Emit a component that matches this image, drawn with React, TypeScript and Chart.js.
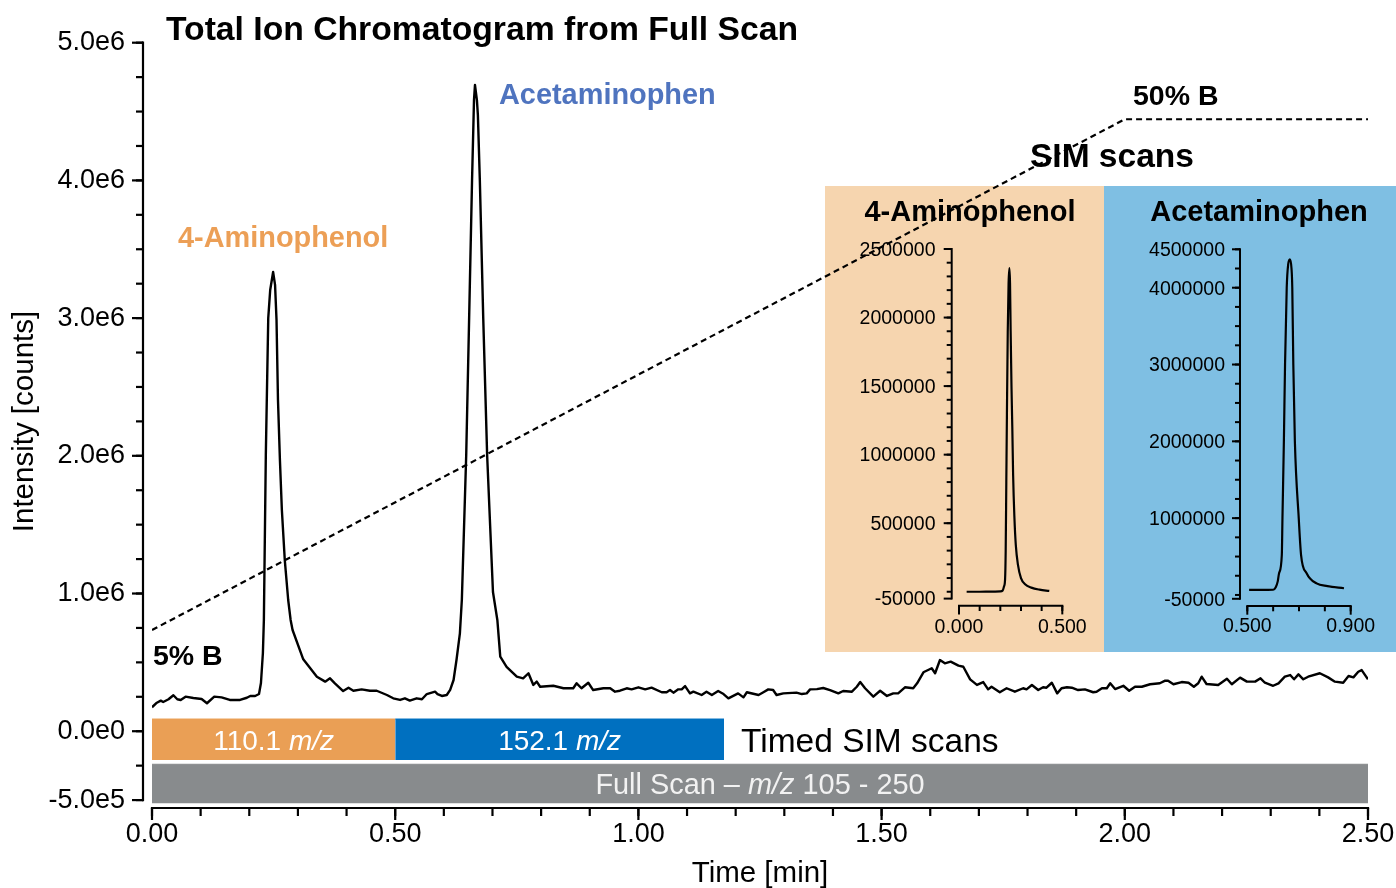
import React, { useEffect, useRef } from 'react';
import { Chart, registerables } from 'chart.js';

Chart.register(...registerables);

const FONT = "'Liberation Sans', Arial, Helvetica, sans-serif";

// ---------- Main total ion chromatogram (intensity in units of 1e6 counts) ----------
const ticTime = [
  0.000, 0.010, 0.018, 0.023, 0.034, 0.044, 0.052, 0.059, 0.069, 0.085, 0.102, 0.113, 0.128, 0.143, 0.160, 0.181,
  0.195, 0.202, 0.212, 0.220, 0.224, 0.228, 0.230, 0.234, 0.239, 0.243, 0.249, 0.253, 0.256, 0.259, 0.263, 0.267,
  0.273, 0.280, 0.285, 0.289, 0.311, 0.339, 0.356, 0.366, 0.376, 0.393, 0.404, 0.414, 0.431, 0.448, 0.462, 0.483,
  0.496, 0.510, 0.520, 0.530, 0.544, 0.555, 0.565, 0.582, 0.587, 0.596, 0.606, 0.613, 0.620, 0.626, 0.633, 0.637,
  0.646, 0.652, 0.658, 0.662, 0.664, 0.668, 0.670, 0.674, 0.681, 0.689, 0.701, 0.710, 0.716, 0.729, 0.750, 0.763,
  0.774, 0.784, 0.791, 0.798, 0.825, 0.846, 0.866, 0.873, 0.883, 0.897, 0.907, 0.928, 0.942, 0.952, 0.962, 0.976,
  0.986, 1.000, 1.014, 1.027, 1.048, 1.058, 1.065, 1.072, 1.082, 1.089, 1.096, 1.106, 1.113, 1.130, 1.140, 1.151,
  1.164, 1.175, 1.185, 1.205, 1.216, 1.223, 1.247, 1.257, 1.267, 1.277, 1.284, 1.298, 1.325, 1.336, 1.346, 1.353,
  1.367, 1.380, 1.394, 1.411, 1.421, 1.439, 1.449, 1.456, 1.466, 1.483, 1.497, 1.511, 1.524, 1.534, 1.548, 1.565,
  1.573, 1.586, 1.603, 1.610, 1.620, 1.630, 1.642, 1.658, 1.668, 1.682, 1.696, 1.709, 1.719, 1.726, 1.743, 1.757,
  1.774, 1.791, 1.798, 1.809, 1.822, 1.832, 1.839, 1.850, 1.861, 1.870, 1.881, 1.891, 1.904, 1.918, 1.935, 1.942,
  1.953, 1.963, 1.970, 1.980, 1.997, 2.009, 2.021, 2.035, 2.052, 2.072, 2.083, 2.089, 2.100, 2.117, 2.131, 2.142,
  2.151, 2.158, 2.168, 2.192, 2.210, 2.220, 2.237, 2.251, 2.268, 2.279, 2.288, 2.305, 2.316, 2.329, 2.340, 2.348,
  2.357, 2.367, 2.377, 2.401, 2.418, 2.432, 2.449, 2.460, 2.470, 2.480, 2.487, 2.500,
];
const ticIntensity = [
  0.174, 0.207, 0.222, 0.212, 0.232, 0.261, 0.232, 0.227, 0.251, 0.241, 0.234, 0.203, 0.251, 0.246, 0.227, 0.227,
  0.243, 0.256, 0.256, 0.270, 0.350, 0.568, 0.808, 2.006, 3.000, 3.204, 3.335, 3.241, 2.987, 2.406, 1.970, 1.607,
  1.243, 0.953, 0.808, 0.735, 0.522, 0.396, 0.360, 0.384, 0.348, 0.292, 0.316, 0.294, 0.304, 0.294, 0.294, 0.263,
  0.239, 0.227, 0.239, 0.222, 0.239, 0.232, 0.270, 0.287, 0.270, 0.256, 0.263, 0.300, 0.372, 0.517, 0.711, 0.953,
  2.006, 3.000, 4.002, 4.583, 4.693, 4.583, 4.474, 4.002, 3.000, 2.006, 1.011, 0.808, 0.541, 0.468, 0.396, 0.384,
  0.421, 0.336, 0.360, 0.323, 0.330, 0.312, 0.312, 0.348, 0.312, 0.352, 0.299, 0.312, 0.312, 0.287, 0.294, 0.312,
  0.304, 0.319, 0.304, 0.316, 0.283, 0.283, 0.299, 0.280, 0.304, 0.304, 0.328, 0.275, 0.287, 0.263, 0.287, 0.263,
  0.292, 0.270, 0.239, 0.275, 0.246, 0.283, 0.263, 0.283, 0.304, 0.299, 0.263, 0.275, 0.280, 0.270, 0.275, 0.304,
  0.306, 0.314, 0.299, 0.275, 0.292, 0.287, 0.323, 0.357, 0.312, 0.251, 0.294, 0.256, 0.275, 0.275, 0.319, 0.312,
  0.348, 0.428, 0.457, 0.421, 0.517, 0.493, 0.505, 0.476, 0.468, 0.377, 0.336, 0.357, 0.304, 0.323, 0.283, 0.312,
  0.287, 0.312, 0.304, 0.336, 0.299, 0.319, 0.316, 0.352, 0.275, 0.312, 0.319, 0.316, 0.299, 0.304, 0.283, 0.287,
  0.312, 0.312, 0.348, 0.306, 0.330, 0.294, 0.323, 0.323, 0.341, 0.348, 0.367, 0.367, 0.341, 0.357, 0.352, 0.323,
  0.348, 0.396, 0.343, 0.336, 0.381, 0.341, 0.389, 0.360, 0.360, 0.384, 0.352, 0.330, 0.348, 0.396, 0.408, 0.377,
  0.413, 0.377, 0.396, 0.421, 0.391, 0.360, 0.352, 0.401, 0.391, 0.432, 0.444, 0.377,
];

// Gradient (%B) trace, plotted on the intensity axis
const gradientTime = [0, 2.0, 2.5];
const gradientLevel = [0.735, 4.444, 4.444];

// Timed SIM windows and full scan range
const simStart = [0, 0.5];
const simEnd = [0.5, 1.176];
const simMass = ['110.1', '152.1'];
const fullScanStart = [0];
const fullScanEnd = [2.5];

// Main axis ticks
const mainXTicks = [0, 0.5, 1.0, 1.5, 2.0, 2.5];
const mainXTickLabels = ['0.00', '0.50', '1.00', '1.50', '2.00', '2.50'];
const mainYTicks = [-0.5, 0, 1, 2, 3, 4, 5];
const mainYTickLabels = ['-5.0e5', '0.0e0', '1.0e6', '2.0e6', '3.0e6', '4.0e6', '5.0e6'];

// ---------- Inset: 4-Aminophenol SIM (m/z 110.1) ----------
const apTime = [
  0.037, 0.100, 0.150, 0.200, 0.211, 0.218, 0.223, 0.226, 0.229, 0.232, 0.236, 0.240, 0.244, 0.247, 0.250, 0.254,
  0.258, 0.262, 0.268, 0.275, 0.285, 0.300, 0.320, 0.350, 0.390, 0.437,
];
const apIntensity = [
  0.000, 0.000, 0.001, 0.003, 0.008, 0.040, 0.090, 0.300, 0.800, 1.300, 1.900, 2.250, 2.360, 2.250, 1.900, 1.500,
  1.200, 0.850, 0.550, 0.340, 0.200, 0.100, 0.055, 0.030, 0.015, 0.006,
];
const apXTicks = [0, 0.5];
const apXTickLabels = ['0.000', '0.500'];
const apYTicks = [-0.05, 0.5, 1.0, 1.5, 2.0, 2.5];
const apYTickLabels = ['-50000', '500000', '1000000', '1500000', '2000000', '2500000'];

// ---------- Inset: Acetaminophen SIM (m/z 152.1) ----------
const acTime = [
  0.507, 0.550, 0.600, 0.610, 0.618, 0.6227, 0.6335, 0.636, 0.6415, 0.646, 0.6525, 0.658, 0.665, 0.671, 0.674,
  0.678, 0.684, 0.699, 0.708, 0.730, 0.768, 0.810, 0.874,
];
const acIntensity = [
  0.065, 0.065, 0.068, 0.100, 0.180, 0.280, 0.520, 1.000, 2.000, 3.000, 4.000, 4.300, 4.370, 4.250, 4.000,
  3.000, 2.000, 1.000, 0.520, 0.280, 0.150, 0.115, 0.087,
];
const acXTicks = [0.5, 0.9];
const acXTickLabels = ['0.500', '0.900'];
const acYTicks = [-0.05, 1, 2, 3, 4, 4.5];
const acYTickLabels = ['-50000', '1000000', '2000000', '3000000', '4000000', '4500000'];

// ---------- styles ----------
const ORANGE = '#EA9F55';
const BLUE_BAR = '#0070C0';
const GRAY_BAR = '#888B8D';
const AP_BG = '#F6D5AF';
const AC_BG = '#7FBFE3';
const LABEL_BLUE = '#4F74BF';
const LABEL_ORANGE = '#EC9F56';

const SIM_TOP = 0.0886;
const SIM_BOTTOM = -0.209;
const FULL_TOP = -0.24;
const FULL_BOTTOM = -0.524;

type AxisCfg = {
  xAxisY: number;
  yAxisX: number;
  xFrom: number;
  xTo: number;
  xMajors: number[];
  xLabels: string[];
  xMinorStart: number;
  xMinorStep: number;
  xMajorLen: number;
  xMinorLen: number;
  xLabelBaseline: number;
  yFrom: number;
  yTo: number;
  yMajors: number[];
  yLabels: string[];
  yMinorStart: number;
  yMinorStep: number;
  yMajorLen: number;
  yMinorLen: number;
  yLabelRight: number;
  yLabelShift: number;
  lineWidth: number;
  font: string;
};

function stepValues(start: number, end: number, step: number) {
  const out: number[] = [];
  for (let i = 0; i < 1000; i++) {
    const v = +(start + i * step).toFixed(6);
    if (v > end + 1e-9) break;
    out.push(v);
  }
  return out;
}

function makeAxesPlugin(cfg: AxisCfg) {
  return {
    id: 'originAxes',
    afterDraw(chart: any) {
      const { ctx } = chart;
      const xs = chart.scales.x;
      const ys = chart.scales.y;
      const h = cfg.lineWidth / 2;
      ctx.save();
      ctx.strokeStyle = '#000';
      ctx.fillStyle = '#000';
      ctx.lineWidth = cfg.lineWidth;
      ctx.lineCap = 'butt';
      const seg = (x1: number, y1: number, x2: number, y2: number) => {
        ctx.beginPath();
        ctx.moveTo(x1, y1);
        ctx.lineTo(x2, y2);
        ctx.stroke();
      };
      // y axis
      const yTop = ys.getPixelForValue(cfg.yTo);
      const yBot = ys.getPixelForValue(cfg.yFrom);
      seg(cfg.yAxisX, yTop - h, cfg.yAxisX, yBot + h);
      stepValues(cfg.yMinorStart, cfg.yTo, cfg.yMinorStep).forEach((v) => {
        const p = ys.getPixelForValue(v);
        seg(cfg.yAxisX - cfg.yMinorLen, p, cfg.yAxisX, p);
      });
      ctx.font = cfg.font;
      ctx.textAlign = 'right';
      ctx.textBaseline = 'alphabetic';
      cfg.yMajors.forEach((v, i) => {
        const p = ys.getPixelForValue(v);
        seg(cfg.yAxisX - cfg.yMajorLen, p, cfg.yAxisX, p);
        ctx.fillText(cfg.yLabels[i], cfg.yLabelRight, p + cfg.yLabelShift);
      });
      // x axis
      const xL = xs.getPixelForValue(cfg.xFrom);
      const xR = xs.getPixelForValue(cfg.xTo);
      seg(xL - h, cfg.xAxisY, xR + h, cfg.xAxisY);
      stepValues(cfg.xMinorStart, cfg.xTo, cfg.xMinorStep).forEach((v) => {
        const p = xs.getPixelForValue(v);
        seg(p, cfg.xAxisY, p, cfg.xAxisY + cfg.xMinorLen);
      });
      ctx.textAlign = 'center';
      cfg.xMajors.forEach((v, i) => {
        const p = xs.getPixelForValue(v);
        seg(p, cfg.xAxisY, p, cfg.xAxisY + cfg.xMajorLen);
        ctx.fillText(cfg.xLabels[i], p, cfg.xLabelBaseline);
      });
      ctx.restore();
    },
  };
}

type Run = [string, boolean];

function drawRuns(ctx: CanvasRenderingContext2D, runs: Run[], size: number, weight: string, cx: number, y: number, color: string) {
  const fontFor = (it: boolean) => `${it ? 'italic ' : ''}${weight} ${size}px ${FONT}`;
  let total = 0;
  runs.forEach(([t, it]) => {
    ctx.font = fontFor(it);
    total += ctx.measureText(t).width;
  });
  let x = cx - total / 2;
  ctx.fillStyle = color;
  ctx.textAlign = 'left';
  ctx.textBaseline = 'alphabetic';
  runs.forEach(([t, it]) => {
    ctx.font = fontFor(it);
    ctx.fillText(t, x, y);
    x += ctx.measureText(t).width;
  });
}

function text(ctx: CanvasRenderingContext2D, s: string, x: number, y: number, font: string, color: string, align: CanvasTextAlign = 'left') {
  ctx.font = font;
  ctx.fillStyle = color;
  ctx.textAlign = align;
  ctx.textBaseline = 'alphabetic';
  ctx.fillText(s, x, y);
}

const mainTextPlugin = {
  id: 'mainText',
  afterDraw(chart: any) {
    const { ctx } = chart;
    const xs = chart.scales.x;
    ctx.save();
    // labels inside scan bars
    simMass.forEach((m, i) => {
      const cx = (xs.getPixelForValue(simStart[i]) + xs.getPixelForValue(simEnd[i])) / 2;
      drawRuns(ctx, [[m + ' ', false], ['m/z', true]], 28, 'normal', cx, 750, '#FFFFFF');
    });
    const fcx = (xs.getPixelForValue(fullScanStart[0]) + xs.getPixelForValue(fullScanEnd[0])) / 2;
    drawRuns(ctx, [['Full Scan \u2013 ', false], ['m/z', true], [' 105 - 250', false]], 28.9, 'normal', fcx, 794, '#F2F2F2');

    text(ctx, 'Timed SIM scans', 741, 751.5, `normal 33.5px ${FONT}`, '#000');
    text(ctx, 'Total Ion Chromatogram from Full Scan', 166, 39.5, `bold 33.7px ${FONT}`, '#000');
    text(ctx, 'Acetaminophen', 499, 104, `bold 28.9px ${FONT}`, LABEL_BLUE);
    text(ctx, '4-Aminophenol', 178, 246.5, `bold 28.9px ${FONT}`, LABEL_ORANGE);
    text(ctx, '5% B', 153, 665, `bold 28.5px ${FONT}`, '#000');
    text(ctx, '50% B', 1133, 105, `bold 28.5px ${FONT}`, '#000');
    text(ctx, 'SIM scans', 1030, 166.5, `bold 33.5px ${FONT}`, '#000');

    // axis titles
    text(ctx, 'Time [min]', 760, 882, `normal 29.5px ${FONT}`, '#000', 'center');
    ctx.save();
    ctx.translate(33, 421.5);
    ctx.rotate(-Math.PI / 2);
    text(ctx, 'Intensity [counts]', 0, 0, `normal 29.5px ${FONT}`, '#000', 'center');
    ctx.restore();
    ctx.restore();
  },
};

function insetTitlePlugin(title: string, cx: number, baseline: number) {
  return {
    id: 'insetTitle',
    afterDraw(chart: any) {
      const { ctx } = chart;
      ctx.save();
      text(ctx, title, cx, baseline, `bold 29px ${FONT}`, '#000', 'center');
      ctx.restore();
    },
  };
}

function band(xStart: number, xEnd: number, top: number, bottom: number, color: string, label: string) {
  return {
    label,
    data: [
      { x: xStart, y: top },
      { x: xEnd, y: top },
    ],
    borderColor: color,
    borderWidth: 1,
    pointRadius: 0,
    tension: 0,
    fill: { target: { value: bottom }, above: color, below: color },
    backgroundColor: color,
  };
}

function buildMain(canvas: HTMLCanvasElement) {
  return new Chart(canvas, {
    type: 'line',
    data: {
      datasets: [
        {
          label: 'Gradient %B',
          data: gradientTime.map((t, i) => ({ x: t, y: gradientLevel[i] })),
          borderColor: '#000',
          borderWidth: 2.2,
          borderDash: [6, 4],
          pointRadius: 0,
          tension: 0,
          fill: false,
        },
        {
          label: 'TIC',
          data: ticTime.map((t, i) => ({ x: t, y: ticIntensity[i] })),
          borderColor: '#000',
          borderWidth: 2.4,
          pointRadius: 0,
          tension: 0,
          fill: false,
          borderJoinStyle: 'round',
        },
        band(simStart[0], simEnd[0], SIM_TOP, SIM_BOTTOM, ORANGE, 'SIM ' + simMass[0]),
        band(simStart[1], simEnd[1], SIM_TOP, SIM_BOTTOM, BLUE_BAR, 'SIM ' + simMass[1]),
        band(fullScanStart[0], fullScanEnd[0], FULL_TOP, FULL_BOTTOM, GRAY_BAR, 'Full scan'),
      ] as any,
    },
    options: {
      responsive: false,
      animation: false,
      events: [],
      layout: { padding: { left: 152, right: 28, top: 42.7, bottom: 83.8 } },
      plugins: { legend: { display: false }, tooltip: { enabled: false } },
      scales: {
        x: { type: 'linear', min: 0, max: 2.5, display: false },
        y: { type: 'linear', min: -0.53, max: 5, display: false },
      },
    } as any,
    plugins: [
      makeAxesPlugin({
        xAxisY: 808,
        yAxisX: 143,
        xFrom: 0,
        xTo: 2.5,
        xMajors: mainXTicks,
        xLabels: mainXTickLabels,
        xMinorStart: 0,
        xMinorStep: 0.1,
        xMajorLen: 12,
        xMinorLen: 8,
        xLabelBaseline: 842,
        yFrom: -0.5,
        yTo: 5,
        yMajors: mainYTicks,
        yLabels: mainYTickLabels,
        yMinorStart: -0.5,
        yMinorStep: 0.25,
        yMajorLen: 11,
        yMinorLen: 7,
        yLabelRight: 125,
        yLabelShift: 7.5,
        lineWidth: 2.2,
        font: `normal 27px ${FONT}`,
      }),
      mainTextPlugin,
    ],
  });
}

function buildInset(
  canvas: HTMLCanvasElement,
  time: number[],
  intensity: number[],
  xMin: number,
  xMax: number,
  yMax: number,
  padding: { left: number; right: number; top: number; bottom: number },
  axis: AxisCfg,
  title: string,
  titleX: number,
) {
  return new Chart(canvas, {
    type: 'line',
    data: {
      datasets: [
        {
          label: title,
          data: time.map((t, i) => ({ x: t, y: intensity[i] })),
          borderColor: '#000',
          borderWidth: 2.2,
          pointRadius: 0,
          cubicInterpolationMode: 'monotone',
          fill: false,
        },
      ] as any,
    },
    options: {
      responsive: false,
      animation: false,
      events: [],
      layout: { padding },
      plugins: { legend: { display: false }, tooltip: { enabled: false } },
      scales: {
        x: { type: 'linear', min: xMin, max: xMax, display: false },
        y: { type: 'linear', min: -0.05, max: yMax, display: false },
      },
    } as any,
    plugins: [makeAxesPlugin(axis), insetTitlePlugin(title, titleX, 34.5)],
  });
}

export default function App() {
  const mainRef = useRef<HTMLCanvasElement>(null);
  const apRef = useRef<HTMLCanvasElement>(null);
  const acRef = useRef<HTMLCanvasElement>(null);

  useEffect(() => {
    const charts: Chart[] = [];
    if (apRef.current) {
      charts.push(
        buildInset(
          apRef.current,
          apTime,
          apIntensity,
          0,
          0.5,
          2.5,
          { left: 134, right: 41.7, top: 63, bottom: 53.4 },
          {
            xAxisY: 419.7,
            yAxisX: 126.7,
            xFrom: 0,
            xTo: 0.5,
            xMajors: apXTicks,
            xLabels: apXTickLabels,
            xMinorStart: 0,
            xMinorStep: 0.1,
            xMajorLen: 8.7,
            xMinorLen: 5.3,
            xLabelBaseline: 446.5,
            yFrom: -0.05,
            yTo: 2.5,
            yMajors: apYTicks,
            yLabels: apYTickLabels,
            yMinorStart: 0,
            yMinorStep: 0.1,
            yMajorLen: 8,
            yMinorLen: 5,
            yLabelRight: 110.5,
            yLabelShift: 6.8,
            lineWidth: 2,
            font: `normal 19.5px ${FONT}`,
          },
          '4-Aminophenol',
          145,
        ),
      );
    }
    if (acRef.current) {
      charts.push(
        buildInset(
          acRef.current,
          acTime,
          acIntensity,
          0.5,
          0.9,
          4.5,
          { left: 143.3, right: 45.3, top: 63.3, bottom: 53.2 },
          {
            xAxisY: 420,
            yAxisX: 136,
            xFrom: 0.5,
            xTo: 0.9,
            xMajors: acXTicks,
            xLabels: acXTickLabels,
            xMinorStart: 0.5,
            xMinorStep: 0.1,
            xMajorLen: 8.7,
            xMinorLen: 5.3,
            xLabelBaseline: 446,
            yFrom: -0.05,
            yTo: 4.5,
            yMajors: acYTicks,
            yLabels: acYTickLabels,
            yMinorStart: 0,
            yMinorStep: 0.25,
            yMajorLen: 8,
            yMinorLen: 5,
            yLabelRight: 121,
            yLabelShift: 6.8,
            lineWidth: 2,
            font: `normal 19.5px ${FONT}`,
          },
          'Acetaminophen',
          155,
        ),
      );
    }
    if (mainRef.current) charts.push(buildMain(mainRef.current));
    return () => charts.forEach((c) => c.destroy());
  }, []);

  return (
    <div style={{ position: 'absolute', left: 0, top: 0, width: 1396, height: 888, background: '#fff', overflow: 'hidden' }}>
      <div style={{ position: 'absolute', left: 825, top: 186, width: 279, height: 466, background: AP_BG, zIndex: 0 }}>
        <canvas ref={apRef} width={279} height={466} style={{ display: 'block' }} />
      </div>
      <div style={{ position: 'absolute', left: 1104, top: 186, width: 292, height: 466, background: AC_BG, zIndex: 0 }}>
        <canvas ref={acRef} width={292} height={466} style={{ display: 'block' }} />
      </div>
      <canvas
        ref={mainRef}
        width={1396}
        height={888}
        style={{ position: 'absolute', left: 0, top: 0, zIndex: 1, display: 'block' }}
      />
    </div>
  );
}
